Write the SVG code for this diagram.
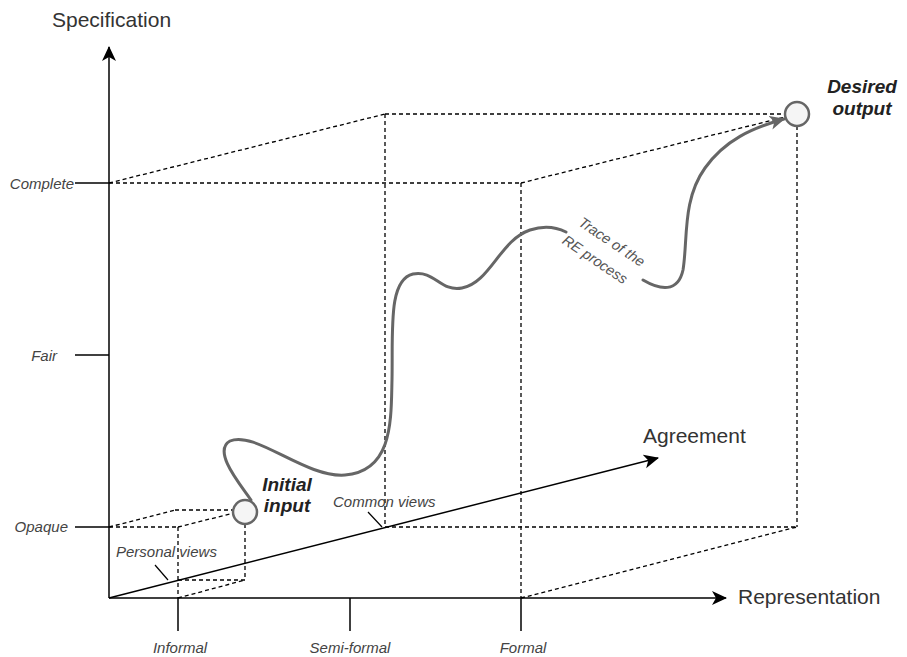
<svg xmlns="http://www.w3.org/2000/svg" width="907" height="657" viewBox="0 0 907 657">
  <style>
    .axis { stroke: #000; stroke-width: 1.5; fill: none; }
    .tick { stroke: #000; stroke-width: 1.5; fill: none; }
    .dash { stroke: #000; stroke-width: 1.3; stroke-dasharray: 4 3; fill: none; }
    .lead { stroke: #000; stroke-width: 1.2; fill: none; }
    .trace { stroke: #666; stroke-width: 3; fill: none; stroke-linecap: round; }
    .state { fill: #f5f5f5; stroke: #666; stroke-width: 2.5; }
    .axlbl { font-family: "Liberation Sans", Arial, sans-serif; font-size: 21px; fill: #333; }
    .tlbl { font-family: "Liberation Sans", Arial, sans-serif; font-size: 15px; font-style: italic; fill: #444; }
    .big { font-family: "Liberation Sans", Arial, sans-serif; font-size: 19px; font-style: italic; font-weight: bold; fill: #222; text-anchor: middle; }
    .note { font-family: "Liberation Sans", Arial, sans-serif; font-size: 14.5px; font-style: italic; fill: #555; text-anchor: middle; }
  </style>
  <defs>
    <marker id="arrowBlack" markerUnits="userSpaceOnUse" markerWidth="16" markerHeight="16" refX="14" refY="7" orient="auto">
      <path d="M0,0 L15,7 L0,14 L4,7 Z" fill="#000"/>
    </marker>
    <marker id="arrowGray" markerUnits="userSpaceOnUse" markerWidth="18" markerHeight="18" refX="14" refY="7" orient="auto">
      <path d="M0,0 L15,7 L0,14 L4,7 Z" fill="#666"/>
    </marker>
  </defs>

  <!-- main axes -->
  <g id="axes">
    <line class="axis" x1="109" y1="598" x2="109" y2="47" marker-end="url(#arrowBlack)"/>
    <line class="axis" x1="109" y1="598" x2="726" y2="598" marker-end="url(#arrowBlack)"/>
    <text class="axlbl" x="52" y="27">Specification</text>
    <text class="axlbl" x="738" y="604">Representation</text>
  </g>

  <!-- level ticks on the specification axis -->
  <g id="spec-ticks">
    <line class="tick" x1="75" y1="183" x2="109" y2="183"/>
    <line class="tick" x1="75" y1="355" x2="109" y2="355"/>
    <line class="tick" x1="75" y1="527" x2="109" y2="527"/>
    <text class="tlbl" x="74" y="189" text-anchor="end">Complete</text>
    <text class="tlbl" x="57" y="361" text-anchor="end">Fair</text>
    <text class="tlbl" x="68" y="532" text-anchor="end">Opaque</text>
  </g>

  <!-- level ticks on the representation axis -->
  <g id="repr-ticks">
    <line class="tick" x1="178" y1="598" x2="178" y2="631"/>
    <line class="tick" x1="350" y1="598" x2="350" y2="631"/>
    <line class="tick" x1="521" y1="598" x2="521" y2="631"/>
    <text class="tlbl" x="180" y="653" text-anchor="middle">Informal</text>
    <text class="tlbl" x="350" y="653" text-anchor="middle">Semi-formal</text>
    <text class="tlbl" x="523" y="653" text-anchor="middle">Formal</text>
  </g>

  <!-- outer cube (target space) -->
  <g id="outer-cube">
    <line class="dash" x1="109" y1="183" x2="521" y2="183"/>
    <line class="dash" x1="521" y1="183" x2="521" y2="598"/>
    <line class="dash" x1="109" y1="183" x2="385" y2="114"/>
    <line class="dash" x1="385" y1="114" x2="796" y2="114"/>
    <line class="dash" x1="521" y1="183" x2="785" y2="117"/>
    <line class="dash" x1="385" y1="114" x2="385" y2="527"/>
    <line class="dash" x1="797" y1="126" x2="797" y2="527"/>
    <line class="dash" x1="385" y1="527" x2="797" y2="527"/>
    <line class="dash" x1="521" y1="598" x2="797" y2="527"/>
  </g>

  <!-- inner cube (starting space) -->
  <g id="inner-cube">
    <line class="dash" x1="109" y1="527" x2="178" y2="527"/>
    <line class="dash" x1="178" y1="527" x2="178" y2="598"/>
    <line class="dash" x1="109" y1="527" x2="175" y2="510"/>
    <line class="dash" x1="175" y1="510" x2="234" y2="510"/>
    <line class="dash" x1="178" y1="527" x2="234" y2="513"/>
    <line class="dash" x1="245" y1="524" x2="245" y2="580"/>
    <line class="dash" x1="178" y1="580" x2="245" y2="580"/>
    <line class="dash" x1="178" y1="598" x2="245" y2="580"/>
  </g>

  <!-- agreement axis -->
  <g id="agreement">
    <line class="axis" x1="109" y1="598" x2="658" y2="458" marker-end="url(#arrowBlack)"/>
    <text class="axlbl" x="643" y="443">Agreement</text>
  </g>

  <!-- view labels -->
  <g id="personal-views">
    <text class="tlbl" x="116" y="557">Personal views</text>
  </g>
  <g id="common-views">
    <text class="tlbl" x="333" y="507">Common views</text>
  </g>

  <!-- connectors: trace of the process and label leaders -->
  <g id="connectors">
    <line class="lead" x1="155" y1="565" x2="168" y2="580"/>
    <line class="lead" x1="368" y1="512" x2="382" y2="527"/>
    <path class="trace" d="M251,500 C240,484 212,451 230,441 C255,430 305,478 345,475 C393,471 391,420 392,380 C393,330 388,280 413,274 C435,270 440,292 462,288 C490,283 500,240 530,230 C545,225 558,228 566,232"/>
    <path class="trace" d="M643,280 C660,290 678,293 683,270 C688,240 682,200 705,168 C725,140 752,128 784,119" marker-end="url(#arrowGray)"/>
    <g transform="translate(609,246) rotate(34)">
      <text class="note" x="0" y="0">Trace of the</text>
      <text class="note" x="-4" y="24">RE process</text>
    </g>
  </g>

  <!-- states -->
  <g id="initial-input">
    <circle class="state" cx="245" cy="512" r="12"/>
    <text class="big" x="287" y="491">Initial</text>
    <text class="big" x="287" y="512">input</text>
  </g>
  <g id="desired-output">
    <circle class="state" cx="797" cy="114" r="12"/>
    <text class="big" x="862" y="93">Desired</text>
    <text class="big" x="862" y="115">output</text>
  </g>
</svg>
